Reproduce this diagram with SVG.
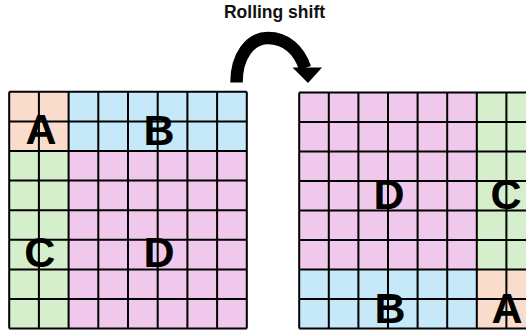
<svg xmlns="http://www.w3.org/2000/svg" width="526" height="334" viewBox="0 0 526 334">
<style>
.a{fill:#fadccd}.b{fill:#c5e9f8}.c{fill:#d5eecb}.d{fill:#f0c8ec}
.g{fill:none;stroke:#000;stroke-width:2}
.l{font-family:"Liberation Sans",Arial,sans-serif;font-weight:bold;font-size:43px;fill:#000;text-anchor:middle}
.t{font-family:"Liberation Sans",Arial,sans-serif;font-weight:bold;font-size:17.5px;fill:#111;text-anchor:middle}
</style>
<rect width="526" height="334" fill="#fff"/>
<text class="t" x="274.5" y="17.5">Rolling shift</text>
<g id="grid-before" transform="translate(9.2,91.8)">
  <g id="before-A"><rect class="a" x="0" y="0" width="59.4" height="59.2"/></g>
  <g id="before-B"><rect class="b" x="59.4" y="0" width="178.2" height="59.2"/></g>
  <g id="before-C"><rect class="c" x="0" y="59.2" width="59.4" height="177.6"/></g>
  <g id="before-D"><rect class="d" x="59.4" y="59.2" width="178.2" height="177.6"/></g>
  <path class="g" d="M0,0V236.8M29.7,0V236.8M59.4,0V236.8M89.1,0V236.8M118.8,0V236.8M148.5,0V236.8M178.2,0V236.8M207.9,0V236.8M237.6,0V236.8M0,0H237.6M0,29.6H237.6M0,59.2H237.6M0,88.8H237.6M0,118.4H237.6M0,148H237.6M0,177.6H237.6M0,207.2H237.6M0,236.8H237.6"/>
  <text class="l" x="31.8" y="52.5">A</text>
  <text class="l" x="149.8" y="53">B</text>
  <text class="l" x="30.5" y="175.5">C</text>
  <text class="l" x="149.8" y="175.5">D</text>
</g>
<g id="grid-after" transform="translate(299.2,92.6)">
  <g id="after-D"><rect class="d" x="0" y="0" width="177.6" height="177"/></g>
  <g id="after-C"><rect class="c" x="177.6" y="0" width="49.2" height="177"/></g>
  <g id="after-B"><rect class="b" x="0" y="177" width="177.6" height="59"/></g>
  <g id="after-A"><rect class="a" x="177.6" y="177" width="49.2" height="59"/></g>
  <path class="g" d="M0,0V236M29.6,0V236M59.2,0V236M88.8,0V236M118.4,0V236M148,0V236M177.6,0V236M207.2,0V236M0,0H226.8M0,29.5H226.8M0,59H226.8M0,88.5H226.8M0,118H226.8M0,147.5H226.8M0,177H226.8M0,206.5H226.8M0,236H226.8"/>
  <text class="l" x="89.8" y="116.5">D</text>
  <text class="l" x="206.8" y="116.5">C</text>
  <text class="l" x="90.8" y="230.5">B</text>
  <text class="l" x="207.8" y="230.5">A</text>
</g>
<g id="connectors">
  <path d="M236.5,82.5C236.5,56 250,38 268,38C286,38 299,50 305,68" fill="none" stroke="#000" stroke-width="12.5"/>
  <polygon points="292.5,67.5 322,67.5 308,83" fill="#000"/>
</g>
</svg>
